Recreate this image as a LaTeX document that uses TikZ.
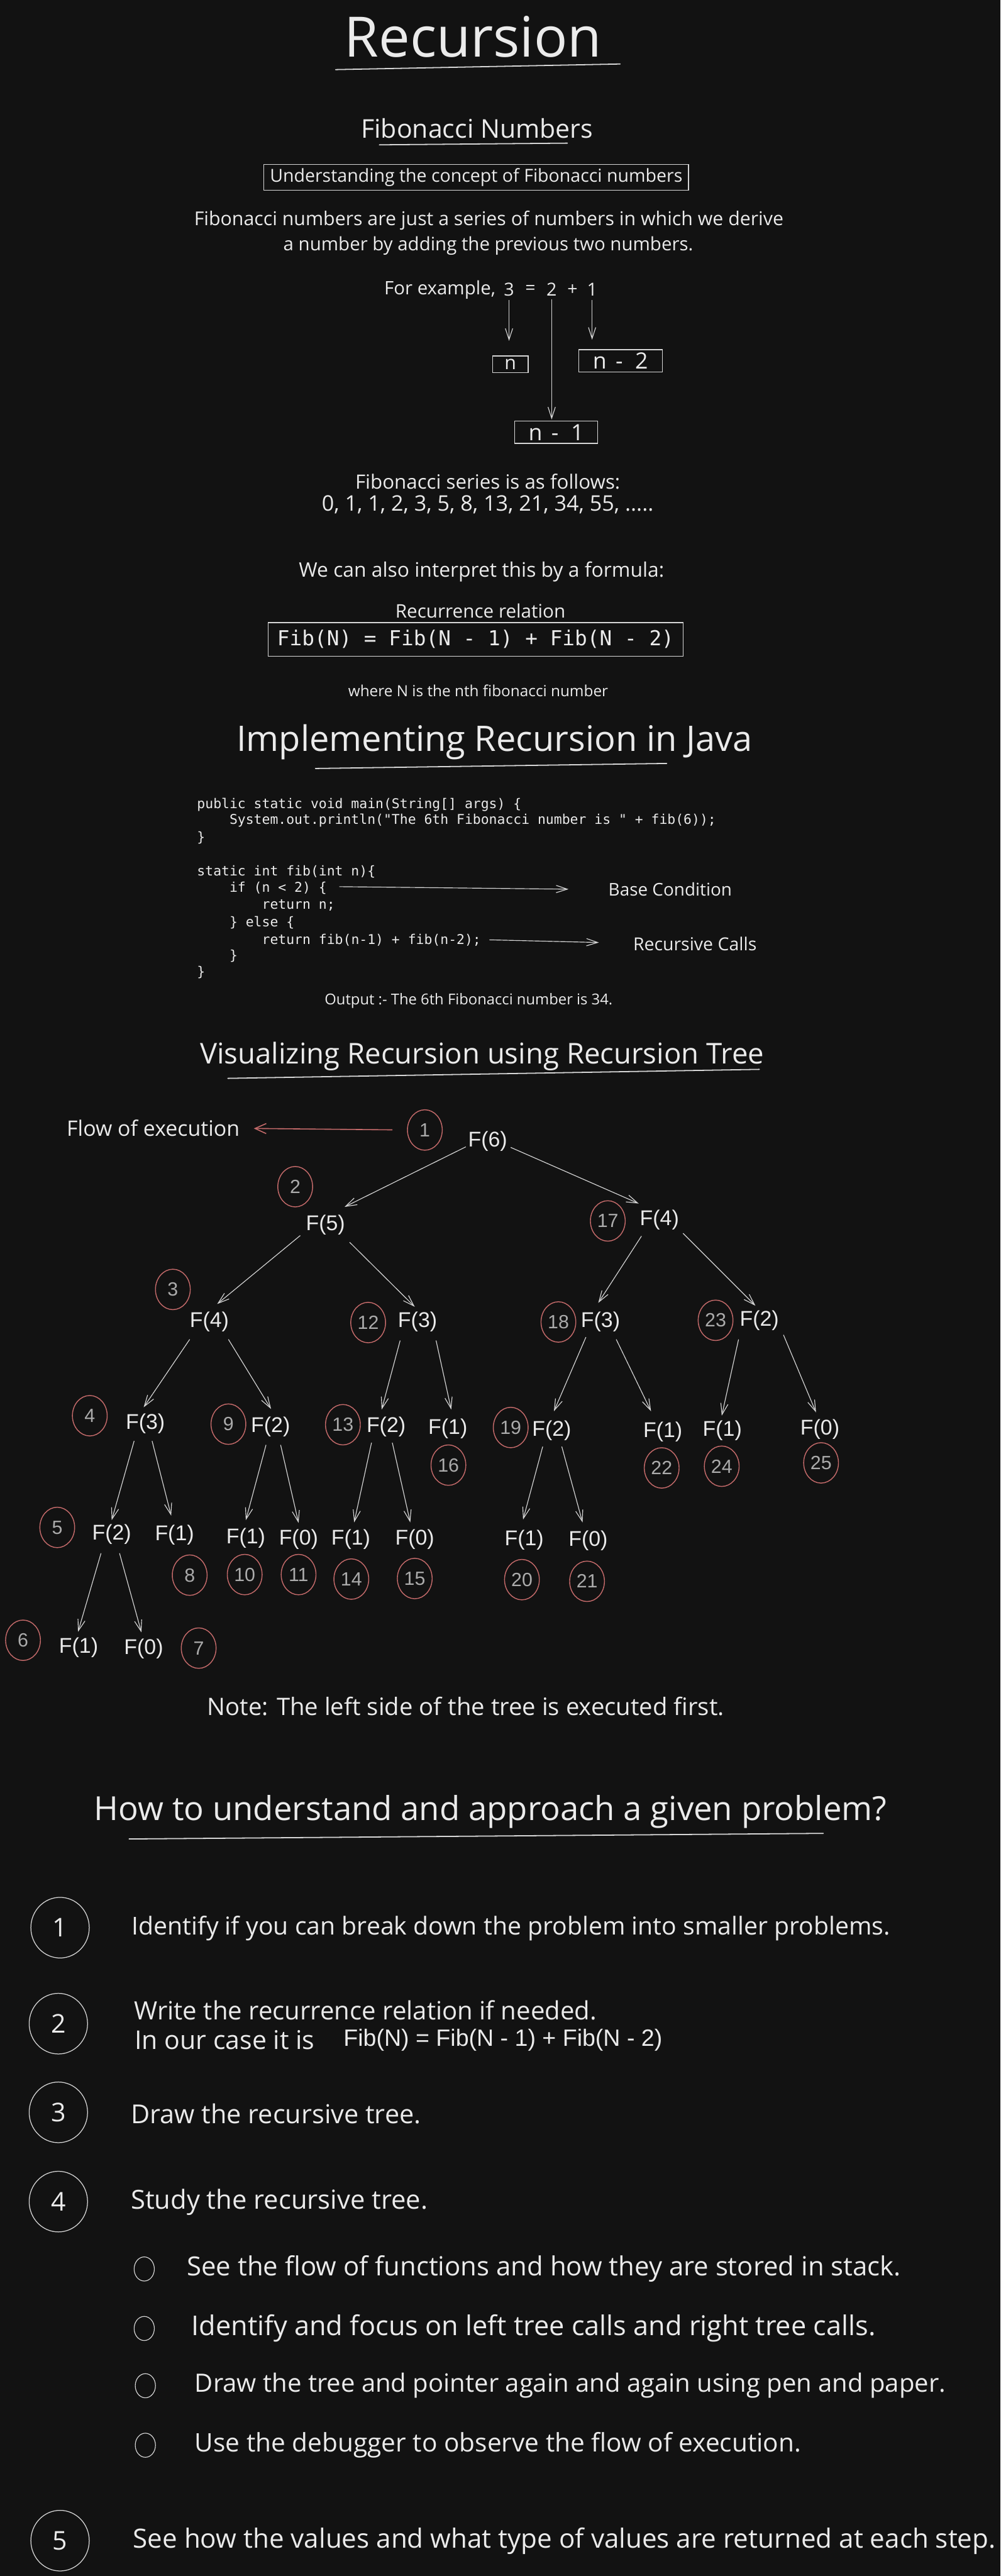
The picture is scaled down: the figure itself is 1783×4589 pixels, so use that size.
\documentclass[tikz,border=0pt]{standalone}
\usepackage{fontspec}
\setmainfont{Open Sans}
\newfontfamily\arialf{Liberation Sans}
\newfontfamily\monof{DejaVu Sans Mono}
\usetikzlibrary{arrows.meta,calc,shapes.geometric}
\definecolor{bgc}{HTML}{121212}
\definecolor{fgc}{HTML}{EBEBEB}
\definecolor{lnc}{HTML}{D6D6D6}
\definecolor{redc}{HTML}{C46A6A}
\definecolor{numg}{HTML}{ABABAB}
\newcommand\hwtext[2]{\resizebox{#1pt}{!}{\fontsize{40}{48}\selectfont #2}}
\begin{document}
\begin{tikzpicture}[x=1pt,y=-1pt,
  txt/.style={text=fgc, inner sep=0pt},
  ltxt/.style={text=fgc, inner sep=0pt, anchor=west},
  code/.style={text=fgc, inner sep=0pt, anchor=mid west, font=\monof\fontsize{24}{30}\selectfont},
  boxed/.style={draw=lnc, line width=1.6pt, inner sep=0pt, text=fgc},
  tarrow/.style={draw=lnc, line width=1.3pt, -{Straight Barb[length=20pt,width=13pt,line width=1.3pt]}},
  rarrow/.style={draw=redc, line width=1.8pt, -{Straight Barb[length=20pt,width=18pt,line width=1.8pt]}},
  fn/.style={text=fgc, inner sep=0pt, font=\arialf\fontsize{38}{44}\selectfont},
  dig/.style={text=fgc, inner sep=0pt, font=\fontsize{32}{38}\selectfont},
  rc/.style={ellipse, draw=redc, line width=1.6pt, minimum width=62pt, minimum height=72pt, inner sep=0pt, text=numg, font=\arialf\fontsize{34}{40}\selectfont},
  wc/.style={ellipse, draw=lnc, line width=1.4pt, minimum width=104pt, minimum height=108pt, inner sep=0pt, text=fgc, font=\fontsize{46}{52}\selectfont},
  bc/.style={ellipse, draw=lnc, line width=1.3pt, minimum width=36pt, minimum height=43pt, inner sep=0pt},
  uline/.style={draw=lnc, line width=2pt, line cap=round}]
\fill[bgc] (0,0) rectangle (1783,4589);
\useasboundingbox (0,0) rectangle (1783,4589);

% ---------- Title ----------
\node[txt] (title) at (843,66) {\hwtext{459}{Recursion}};
\draw[uline] (598,124) -- (1105,114);

% ---------- Fibonacci numbers ----------
\node[txt] (fibhead) at (850,229) {\hwtext{413}{Fibonacci Numbers}};
\draw[uline] (676,258) -- (1011,255);
\node[boxed, minimum width=757pt, minimum height=46pt] (concept) at (848.5,316) {\hwtext{735}{Understanding the concept of Fibonacci numbers}};
\node[txt] (para1) at (871,393) {\hwtext{1050}{Fibonacci numbers are just a series of numbers in which we derive}};
\node[txt] (para2) at (870,438) {\hwtext{730}{a number by adding the previous two numbers.}};
\node[txt, anchor=east] (example) at (883,516) {\hwtext{198}{For example,}};
\node[dig] (d3) at (907,516) {3};
\node[dig] (deq) at (945,516) {=};
\node[dig] (d2) at (983,516) {2};
\node[dig] (dplus) at (1020,516) {+};
\node[dig] (d1) at (1055,516) {1};
\node[boxed, minimum width=63pt, minimum height=30pt, font=\fontsize{34}{40}\selectfont] (bn) at (909.5,649) {n};
\node[boxed, minimum width=149pt, minimum height=40pt, font=\fontsize{40}{46}\selectfont] (bn2) at (1105.5,643) {n\hspace{16pt}-\hspace{22pt}2};
\node[boxed, minimum width=148pt, minimum height=40pt, font=\fontsize{40}{46}\selectfont] (bn1) at (991,770) {n\hspace{16pt}-\hspace{22pt}1};
\draw[tarrow, shorten <=7pt, shorten >=26pt] (d3.south) -- (d3.south |- bn.north);
\draw[tarrow, shorten <=7pt, shorten >=17pt] (d1.south) -- (d1.south |- bn2.north);
\draw[tarrow, shorten <=5pt, shorten >=2pt] (d2.south) -- (d2.south |- bn1.north);

\node[txt] (series1) at (869,858) {\hwtext{472}{Fibonacci series is as follows:}};
\node[txt] (series2) at (869,899) {\hwtext{591}{0, 1, 1, 2, 3, 5, 8, 13, 21, 34, 55, .....}};
\node[txt] (interp) at (858,1019) {\hwtext{651}{We can also interpret this by a formula:}};
\node[txt] (recrel) at (856,1088) {\hwtext{303}{Recurrence relation}};
\node[boxed, minimum width=739pt, minimum height=60pt, font=\monof\fontsize{36.7}{44}\selectfont] (formula) at (847.5,1139) {Fib(N) = Fib(N - 1) + Fib(N - 2)};
\node[txt] (wheren) at (852,1230) {\hwtext{463}{where N is the nth fibonacci number}};

% ---------- Java ----------
\node[txt] (javahead) at (881,1322) {\hwtext{919}{Implementing Recursion in Java}};
\draw[uline] (562,1369) -- (1188,1360);
\node[code] (cl1) at (351,1437) {public static void main(String[] args) \{};
\node[code] (cl2) at (351,1466) {\phantom{xxxx}System.out.println("The 6th Fibonacci number is " + fib(6));};
\node[code] (cl3) at (351,1497) {\}};
\node[code] (cl4) at (351,1557) {static int fib(int n)\{};
\node[code] (cl5) at (351,1587) {\phantom{xxxx}if (n < 2) \{};
\node[code] (cl6) at (351,1617) {\phantom{xxxxxxxx}return n;};
\node[code] (cl7) at (351,1648) {\phantom{xxxx}\} else \{};
\node[code] (cl8) at (351,1679) {\phantom{xxxxxxxx}return fib(n-1) + fib(n-2);};
\node[code] (cl9) at (351,1707) {\phantom{xxxx}\}};
\node[code] (cl10) at (351,1737) {\}};
\node[ltxt] (base) at (1084,1584) {\hwtext{220}{Base Condition}};
\node[ltxt] (reccalls) at (1128,1682) {\hwtext{220}{Recursive Calls}};
\draw[tarrow] ($(cl5.east)+(22,-3)$) -- ($(base.west)+(-71,0)$);
\draw[tarrow] ($(cl8.east)+(15,0)$) -- ($(reccalls.west)+(-61,-3)$);
\node[txt] (output) at (835,1783) {\hwtext{513}{Output :- The 6th Fibonacci number is 34.}};

% ---------- Tree ----------
\node[txt] (vishead) at (859,1882) {\hwtext{1005}{Visualizing Recursion using Recursion Tree}};
\draw[uline] (406,1921) -- (1353,1905);
\node[txt] (flow) at (273,2010) {\hwtext{308}{Flow of execution}};

\node[fn] (f6) at (869,2033) {F(6)};
\node[fn] (f5) at (580,2182) {F(5)};
\node[fn] (f4r) at (1175,2173) {F(4)};
\node[fn] (f4l) at (373,2355) {F(4)};
\node[fn] (f3a) at (744,2355) {F(3)};
\node[fn] (f3b) at (1070,2355) {F(3)};
\node[fn] (f2r) at (1353,2352) {F(2)};
\node[fn] (f3c) at (259,2536) {F(3)};
\node[fn] (f2a) at (482,2542) {F(2)};
\node[fn] (f2b) at (688,2542) {F(2)};
\node[fn] (f1a) at (798,2545) {F(1)};
\node[fn] (f2c) at (983,2548) {F(2)};
\node[fn] (f1b) at (1181,2551) {F(1)};
\node[fn] (f1c) at (1287,2548) {F(1)};
\node[fn] (f0a) at (1461,2546) {F(0)};
\node[fn] (f2d) at (199,2733) {F(2)};
\node[fn] (f1d) at (311,2735) {F(1)};
\node[fn] (f1e) at (438,2740) {F(1)};
\node[fn] (f0b) at (532,2742) {F(0)};
\node[fn] (f1f) at (625,2742) {F(1)};
\node[fn] (f0c) at (739,2742) {F(0)};
\node[fn] (f1g) at (934,2743) {F(1)};
\node[fn] (f0d) at (1048,2745) {F(0)};
\node[fn] (f1h) at (140,2935) {F(1)};
\node[fn] (f0e) at (256,2937) {F(0)};

\draw[tarrow] ($(f6)+(-39,10)$) -- ($(f5)+(34,-32)$);
\draw[tarrow] ($(f6)+(41,11)$) -- ($(f4r)+(-37,-29)$);
\draw[tarrow] ($(f5)+(-45,19)$) -- ($(f4l)+(14,-32)$);
\draw[tarrow] ($(f5)+(43,31)$) -- ($(f3a)+(-5,-27)$);
\draw[tarrow] ($(f4r)+(-32,29)$) -- ($(f3b)+(-4,-34)$);
\draw[tarrow] ($(f4r)+(42,24)$) -- ($(f2r)+(-7,-26)$);
\draw[tarrow] ($(f4l)+(-35,31)$) -- ($(f3c)+(-3,-29)$);
\draw[tarrow] ($(f4l)+(34,31)$) -- ($(f2a)+(1,-32)$);
\draw[tarrow] ($(f3a)+(-31,33)$) -- ($(f2b)+(-8,-31)$);
\draw[tarrow] ($(f3a)+(33,33)$) -- ($(f1a)+(6,-34)$);
\draw[tarrow] ($(f3b)+(-26,27)$) -- ($(f2c)+(4,-34)$);
\draw[tarrow] ($(f3b)+(28,31)$) -- ($(f1b)+(-21,-37)$);
\draw[tarrow] ($(f2r)+(-37,34)$) -- ($(f1c)+(-1,-26)$);
\draw[tarrow] ($(f2r)+(43,26)$) -- ($(f0a)+(-7,-30)$);
\draw[tarrow] ($(f3c)+(-20,31)$) -- ($(f2d)+(0,-25)$);
\draw[tarrow] ($(f3c)+(12,31)$) -- ($(f1d)+(-6,-35)$);
\draw[tarrow] ($(f2a)+(-8,32)$) -- ($(f1e)+(0,-32)$);
\draw[tarrow] ($(f2a)+(18,32)$) -- ($(f0b)+(0,-29)$);
\draw[tarrow] ($(f2b)+(-26,28)$) -- ($(f1f)+(6,-30)$);
\draw[tarrow] ($(f2b)+(11,28)$) -- ($(f0c)+(-8,-30)$);
\draw[tarrow] ($(f2c)+(-16,29)$) -- ($(f1g)+(-2,-36)$);
\draw[tarrow] ($(f2c)+(18,29)$) -- ($(f0d)+(-10,-33)$);
\draw[tarrow] ($(f2d)+(-19,34)$) -- ($(f1h)+(-1,-28)$);
\draw[tarrow] ($(f2d)+(14,34)$) -- ($(f0e)+(-4,-29)$);

\node[rc] (c1) at (757,2013) {1};
\node[rc] (c2) at (526,2114) {2};
\node[rc] (c17) at (1083,2175) {17};
\node[rc] (c3) at (308,2297) {3};
\node[rc] (c12) at (656,2356) {12};
\node[rc] (c18) at (995,2355) {18};
\node[rc] (c23) at (1275,2352) {23};
\node[rc] (c4) at (160,2522) {4};
\node[rc] (c9) at (407,2537) {9};
\node[rc] (c13) at (611,2538) {13};
\node[rc] (c16) at (799,2610) {16};
\node[rc] (c19) at (910,2543) {19};
\node[rc] (c22) at (1179,2615) {22};
\node[rc] (c24) at (1286,2612) {24};
\node[rc] (c25) at (1463,2606) {25};
\node[rc] (c5) at (102,2721) {5};
\node[rc] (c8) at (338,2806) {8};
\node[rc] (c10) at (436,2805) {10};
\node[rc] (c11) at (532,2805) {11};
\node[rc] (c14) at (626,2813) {14};
\node[rc] (c15) at (739,2812) {15};
\node[rc] (c20) at (930,2814) {20};
\node[rc] (c21) at (1046,2817) {21};
\node[rc] (c6) at (41,2922) {6};
\node[rc] (c7) at (354,2936) {7};

\draw[rarrow, shorten <=26pt, shorten >=25pt] (c1.west) -- (flow.east);

\node[txt] (note) at (830,3040) {\hwtext{921}{Note: The left side of the tree is executed first.}};

% ---------- Approach ----------
\node[txt] (howhead) at (874,3227) {\hwtext{1412}{How to understand and approach a given problem?}};
\draw[uline] (230,3276) -- (1467,3266);

\node[wc] (n1) at (107,3434) {1};
\node[wc] (n2) at (104,3605) {2};
\node[wc] (n3) at (104,3763) {3};
\node[wc] (n4) at (104,3922) {4};
\node[wc] (n5) at (107,4526) {5};

\node[ltxt] (t1) at (235,3435) {\hwtext{1351}{Identify if you can break down the problem into smaller problems.}};
\node[ltxt] (t2a) at (239,3581) {\hwtext{824}{Write the recurrence relation if needed.}};
\node[ltxt, font=\fontsize{46}{52}\selectfont] (t2b) at (240,3634) {In our case it is};
\node[ltxt] (t2c) at (612,3634) {\arialf\resizebox{568pt}{!}{\fontsize{40}{48}\selectfont Fib(N) = Fib(N - 1) + Fib(N - 2)}};
\node[ltxt] (t3) at (233,3765) {\hwtext{517}{Draw the recursive tree.}};
\node[ltxt] (t4) at (233,3923) {\hwtext{529}{Study the recursive tree.}};

\node[bc] (b1) at (257,4042) {};
\node[bc] (b2) at (257,4148) {};
\node[bc] (b3) at (259,4250) {};
\node[bc] (b4) at (259,4356) {};
\node[ltxt] (bt1) at (333,4042) {\hwtext{1272}{See the flow of functions and how they are stored in stack.}};
\node[ltxt] (bt2) at (341,4148) {\hwtext{1219}{Identify and focus on left tree calls and right tree calls.}};
\node[ltxt] (bt3) at (347,4250) {\hwtext{1338}{Draw the tree and pointer again and again using pen and paper.}};
\node[ltxt] (bt4) at (347,4356) {\hwtext{1080}{Use the debugger to observe the flow of execution.}};

\node[ltxt] (t5) at (237,4527) {\hwtext{1537}{See how the values and what type of values are returned at each step.}};
\end{tikzpicture}
\end{document}
